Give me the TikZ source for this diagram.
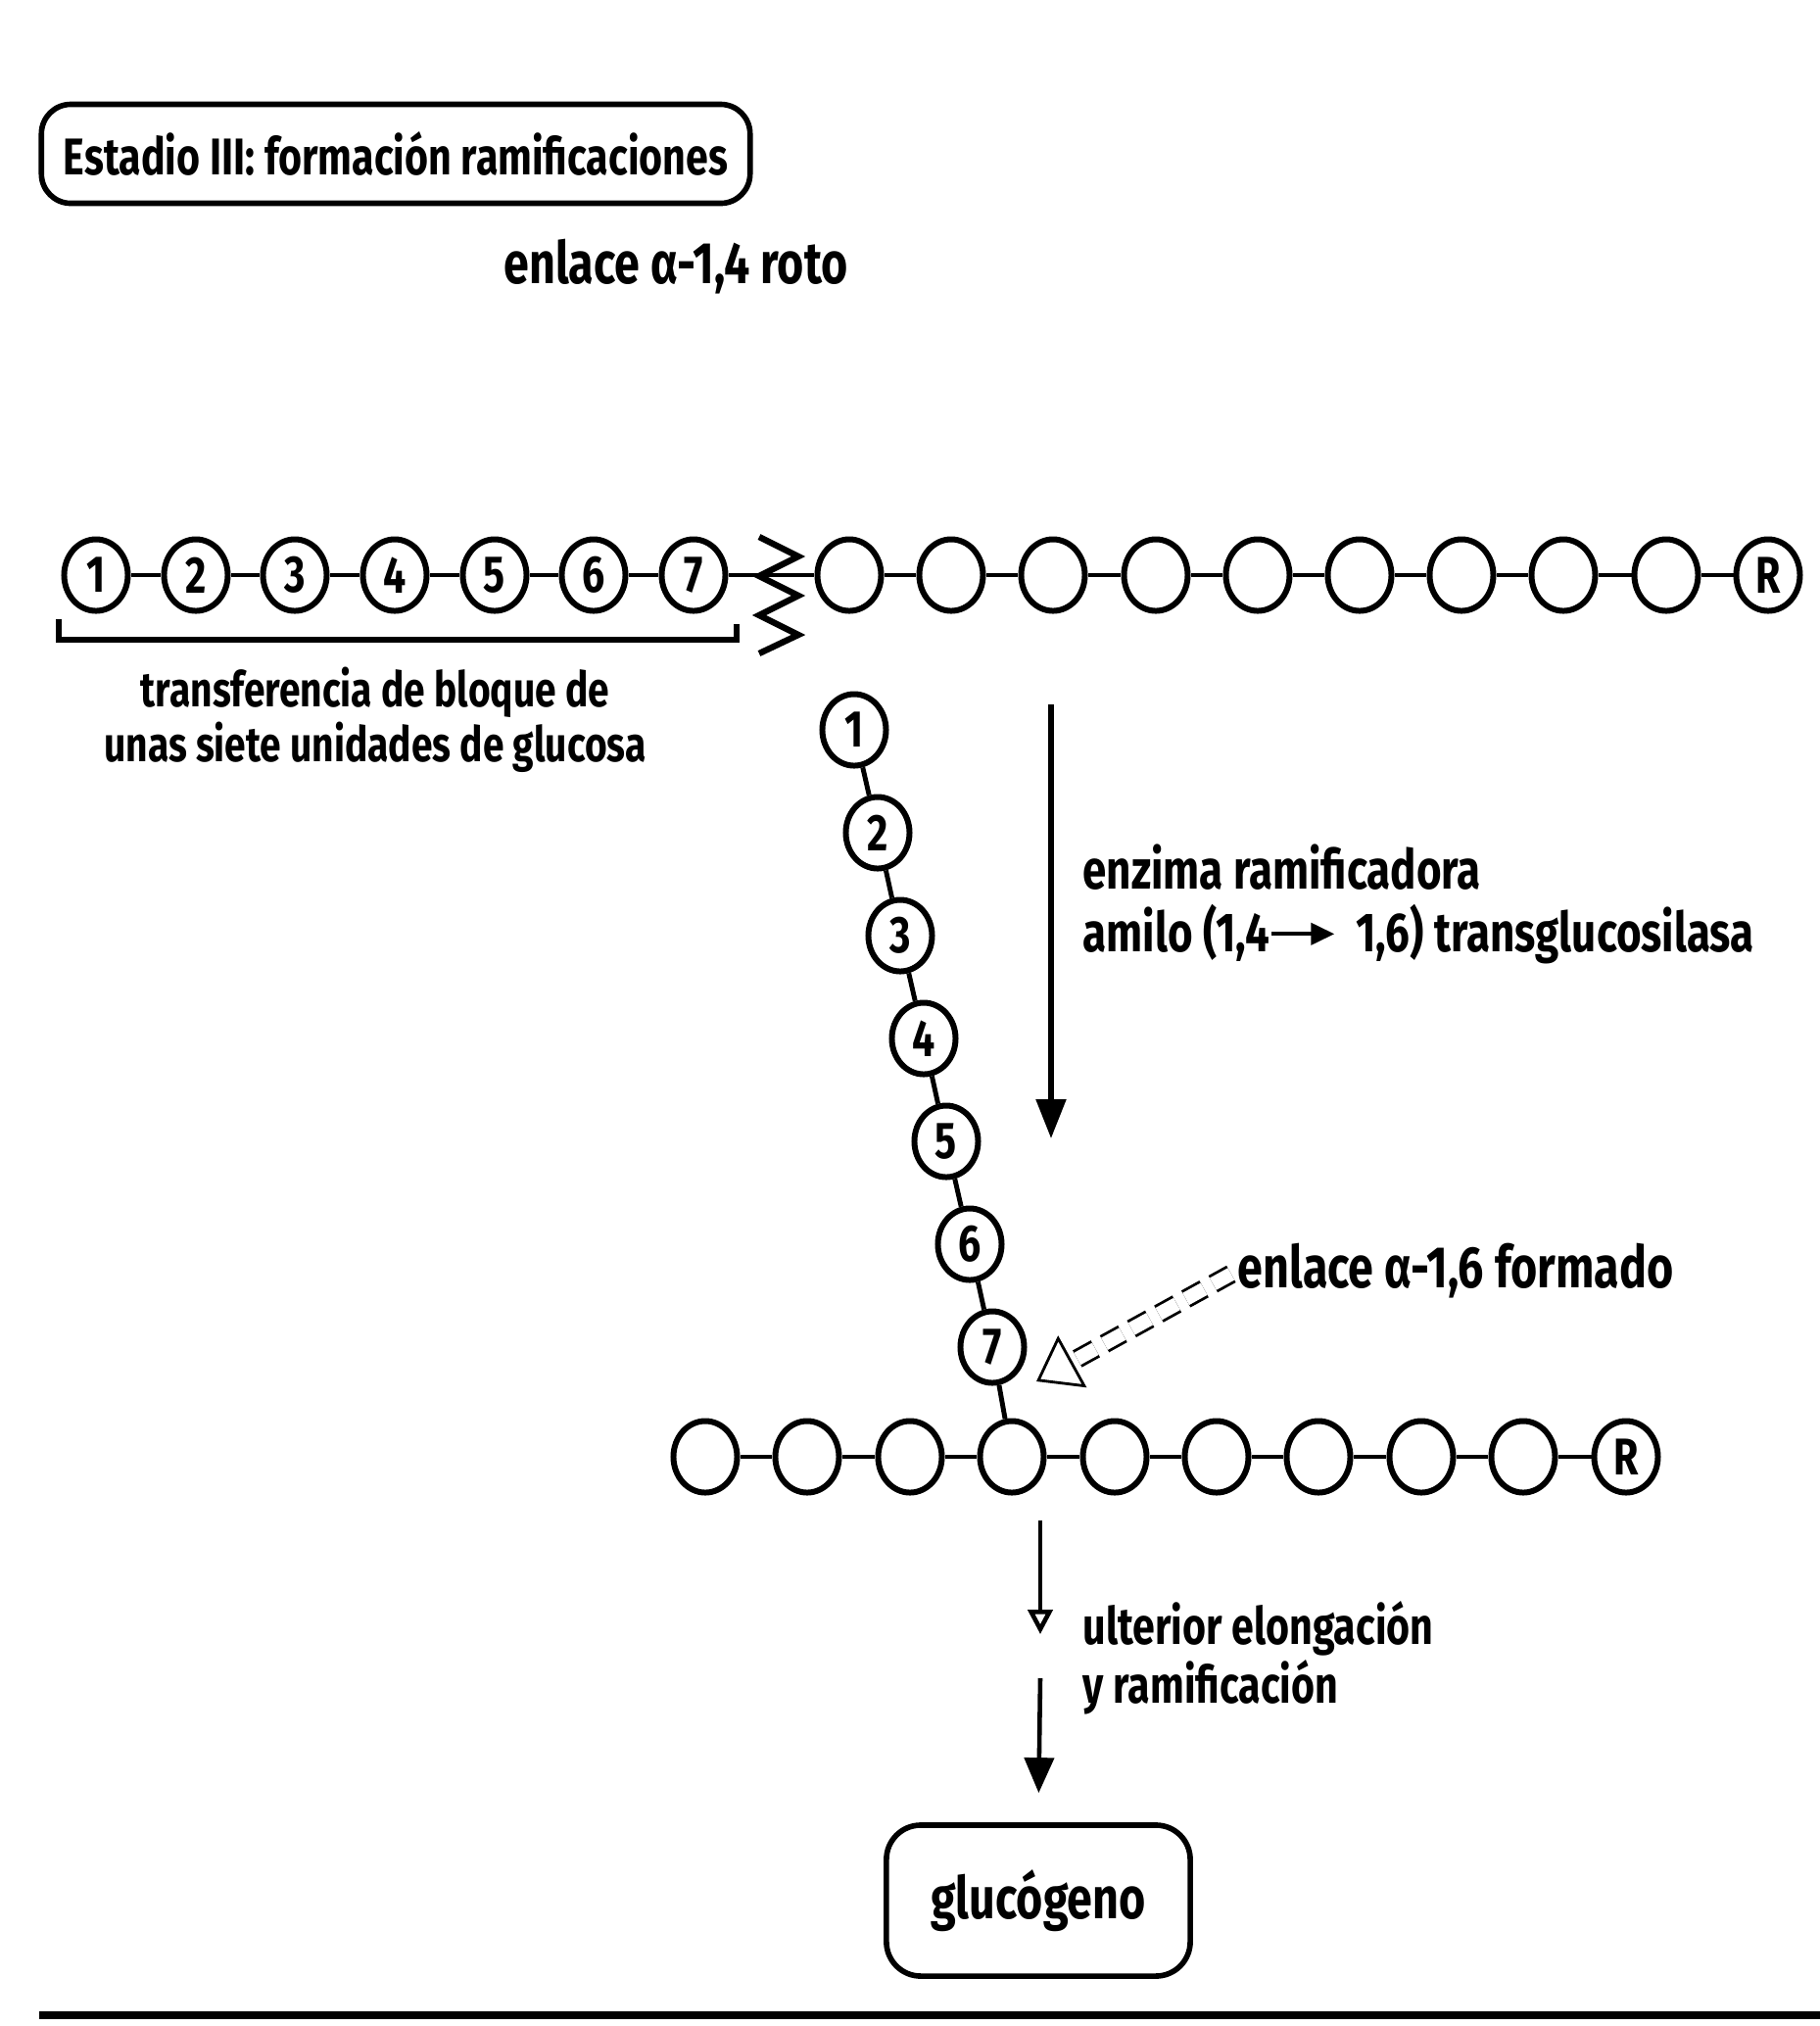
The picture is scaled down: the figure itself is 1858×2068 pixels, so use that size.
\documentclass[tikz,border=0pt]{standalone}
\usepackage{fontspec}
\setmainfont{Fira Sans}[FakeStretch=0.78]
\usetikzlibrary{shapes.geometric,arrows.meta}

\begin{document}
\begin{tikzpicture}[
        x=0.01cm, y=-0.01cm,
        font=\fontsize{16}{18}\selectfont\bfseries,
        unit/.style={
            draw,
            ellipse,
            line width=1.7pt,
            minimum width=0.65cm,
            minimum height=0.73cm,
            inner sep=0pt,
            font=\fontsize{15}{15}\selectfont\bfseries
        },
        bond/.style={line width=1.4pt},
        txt/.style={align=left, inner sep=0pt},
        frame/.style={draw, rounded corners=0.3cm, line width=1.6pt},
        arrow/.style={-{Triangle[length=0.4cm, width=0.3cm]}, line width=1.5pt},
        hollow/.style={
            double,
            double distance=0.14cm,
            line width=0.8pt,
            dash pattern=on 6pt off 3pt,
            shorten <=2pt,
            -{Triangle[open, length=0.42cm, width=0.6cm]}
        }
    ]

    \useasboundingbox (0,0) rectangle (1858,2068);

    \node[frame, minimum width=7.23cm, minimum height=1.01cm, font=\fontsize{15}{18}\selectfont\bfseries] (stage) at (404,157) {Estadio III: formación ramificaciones};
    \node[font=\fontsize{17}{19}\selectfont\bfseries] (roto) at (690,272) {enlace α-1,4 roto};

    % chain with the block that is cut off
    \node[unit] (t1) at (98,587) {1};
    \node[unit] (t2) at (200,587) {2};
    \node[unit] (t3) at (301,587) {3};
    \node[unit] (t4) at (403,587) {4};
    \node[unit] (t5) at (505,587) {5};
    \node[unit] (t6) at (606,587) {6};
    \node[unit] (t7) at (708,587) {7};
    \node[unit] (e1) at (867,587) {};
    \node[unit] (e2) at (971,587) {};
    \node[unit] (e3) at (1075,587) {};
    \node[unit] (e4) at (1180,587) {};
    \node[unit] (e5) at (1284,587) {};
    \node[unit] (e6) at (1388,587) {};
    \node[unit] (e7) at (1492,587) {};
    \node[unit] (e8) at (1596,587) {};
    \node[unit] (e9) at (1701,587) {};
    \node[unit] (r1) at (1805,587) {R};

    \draw[bond] (t1) -- (t2) -- (t3) -- (t4) -- (t5) -- (t6) -- (t7) -- (e1) -- (e2) -- (e3) -- (e4) -- (e5) -- (e6) -- (e7) -- (e8) -- (e9) -- (r1);

    \draw[line width=1.8pt] (775,548) -- (815,568) -- (775,588) -- (815,608) -- (775,628) -- (815,648) -- (775,667);
    \draw[line width=1.7pt] (60,632) |- (752,653) -- (752,637);
    \node[align=center, font=\fontsize{14.2}{16}\selectfont\bfseries] (block) at (383,735) {transferencia de bloque de\\unas siete unidades de glucosa};

    % transferred block
    \node[unit] (b1) at (872,745) {1};
    \node[unit] (b2) at (896,850) {2};
    \node[unit] (b3) at (919,955) {3};
    \node[unit] (b4) at (943,1060) {4};
    \node[unit] (b5) at (966,1165) {5};
    \node[unit] (b6) at (990,1270) {6};
    \node[unit] (b7) at (1013,1375) {7};

    % chain after branching
    \node[unit] (d1) at (720,1487) {};
    \node[unit] (d2) at (824,1487) {};
    \node[unit] (d3) at (929,1487) {};
    \node[unit] (d4) at (1033,1487) {};
    \node[unit] (d5) at (1138,1487) {};
    \node[unit] (d6) at (1242,1487) {};
    \node[unit] (d7) at (1346,1487) {};
    \node[unit] (d8) at (1451,1487) {};
    \node[unit] (d9) at (1555,1487) {};
    \node[unit] (r2) at (1660,1487) {R};

    \draw[bond] (b1) -- (b2) -- (b3) -- (b4) -- (b5) -- (b6) -- (b7) -- (d4);
    \draw[bond] (d1) -- (d2) -- (d3) -- (d4) -- (d5) -- (d6) -- (d7) -- (d8) -- (d9) -- (r2);

    \coordinate (a1) at (1073,719);
    \coordinate (a2) at (1073,1162);
    \draw[arrow] (a1) -- (a2);
    \node[txt, anchor=west] (enz) at (1105,923) {enzima ramificadora\\amilo (1,4\tikz[baseline=-0.6ex]\draw[-{Triangle[length=0.24cm, width=0.22cm]}, line width=1.2pt] (0,0) -- (0.64cm,0);\, 1,6) transglucosilasa};

    \node[txt, anchor=west, font=\fontsize{17}{19}\selectfont\bfseries] (l16) at (1263,1297) {enlace α-1,6 formado};
    \coordinate (j16) at (1058,1410);
    \draw[hollow] (l16.west) -- (j16);

    \coordinate (g1) at (1062,1552);
    \coordinate (g2) at (1062,1668);
    \coordinate (g3) at (1062,1713);
    \node[frame, rounded corners=0.35cm, minimum width=3.1cm, minimum height=1.54cm, font=\fontsize{17}{19}\selectfont\bfseries] (gluc) at (1060,1940) {glucógeno};
    \draw[-{Triangle[open, length=0.25cm, width=0.25cm]}, line width=1.3pt] (g1) -- (g2);
    \draw[-{Triangle[length=0.36cm, width=0.3cm]}, line width=1.3pt, shorten >=0.3cm] (g3) -- (gluc.north);
    \node[txt, anchor=west, font=\fontsize{15}{17}\selectfont\bfseries] (elong) at (1105,1692) {ulterior elongación\\y ramificación};

    \draw[line width=2.4pt] (40,2057) -- (1858,2057);

    \end{tikzpicture}
\end{document}
